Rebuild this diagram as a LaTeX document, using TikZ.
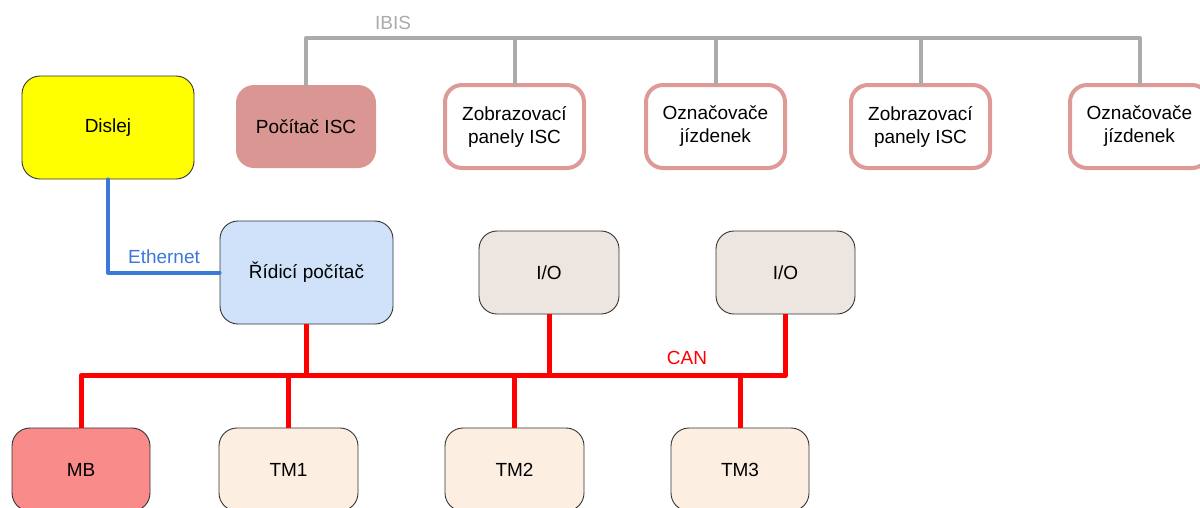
\documentclass[tikz,border=0pt]{standalone}
\usepackage{fontspec}
\setmainfont{Liberation Sans}
\definecolor{ibisgray}{HTML}{ABABAB}
\definecolor{ethblue}{HTML}{3C78D8}
\definecolor{canred}{HTML}{FF0000}
\definecolor{iscfill}{HTML}{DA9692}
\definecolor{iscedge}{HTML}{DD9A97}
\definecolor{dispyellow}{HTML}{FFFF00}
\definecolor{ctrlblue}{HTML}{CFE2FA}
\definecolor{iofill}{HTML}{EDE5E0}
\definecolor{mbfill}{HTML}{FA8B8B}
\definecolor{tmfill}{HTML}{FCEFE1}
\definecolor{edgegray}{HTML}{333333}
\begin{document}
\begin{tikzpicture}[x=1pt,y=-1pt,
  every node/.style={font=\fontsize{19}{23}\selectfont, align=center, inner sep=0pt},
  unit/.style={draw=edgegray, line width=0.9pt, rounded corners=18pt,
    minimum width=#1, minimum height=83pt},
  unit/.default=139pt,
  iscbox/.style={draw=iscedge, line width=4pt, fill=white, rounded corners=17pt,
    minimum width=139pt, minimum height=83pt},
  ibis/.style={draw=ibisgray, line width=4pt, line join=round, line cap=round},
  eth/.style={draw=ethblue, line width=4pt, line join=round, line cap=round},
  can/.style={draw=canred, line width=5pt, line join=round}
]
\useasboundingbox (0,0) rectangle (1200,507);

% IBIS devices
\node[fill=iscfill, rounded corners=18pt, minimum width=140pt, minimum height=83pt] (isc) at (306,126.5) {Počítač ISC};
\node[iscbox] (zob1) at (514.5,126.5) {Zobrazovací\\panely ISC};
\node[iscbox] (ozn1) at (715.5,126.5) {Označovače\\jízdenek};
\node[iscbox] (zob2) at (920.5,126.5) {Zobrazovací\\panely ISC};
\node[iscbox] (ozn2) at (1139.5,126.5) {Označovače\\jízdenek};

% display and control computer
\node[unit=172pt, fill=dispyellow, minimum height=103pt] (disp) at (108,127.5) {Dislej};
\node[unit=173pt, fill=ctrlblue, minimum height=103pt] (ctrl) at (306.5,272.5) {Řídicí počítač};

% CAN devices
\node[unit=140pt, fill=iofill] (io1) at (549,272.5) {I/O};
\node[unit, fill=iofill] (io2) at (785.5,272.5) {I/O};
\node[unit=138pt, fill=mbfill] (mb) at (81,469.5) {MB};
\node[unit, fill=tmfill] (tm1) at (288.5,469.5) {TM1};
\node[unit, fill=tmfill] (tm2) at (514.5,469.5) {TM2};
\node[unit=138pt, fill=tmfill] (tm3) at (740,469.5) {TM3};

% IBIS bus
\coordinate (ibisbus) at (0,38);
\draw[ibis] (isc.north) -- (isc.north |- ibisbus) -- (ozn2.north |- ibisbus) -- (ozn2.north);
\foreach \n in {zob1,ozn1,zob2}
  \draw[ibis] (\n.north) -- (\n.north |- ibisbus);
\node[text=ibisgray] (ibislbl) at (393,22.5) {IBIS};

% Ethernet link
\draw[eth] (disp.south) |- (ctrl.west);
\node[text=ethblue] (ethlbl) at (164,257) {Ethernet};

% CAN bus
\coordinate (canbus) at (0,375.5);
\draw[can] (mb.north) -- (mb.north |- canbus) -- (io2.south |- canbus) -- (io2.south);
\foreach \n in {tm1,tm2,tm3}
  \draw[can] (\n.north) -- (\n.north |- canbus);
\foreach \n in {ctrl,io1}
  \draw[can] (\n.south) -- (\n.south |- canbus);
\node[text=canred] (canlbl) at (687,358) {CAN};
\end{tikzpicture}
\end{document}
